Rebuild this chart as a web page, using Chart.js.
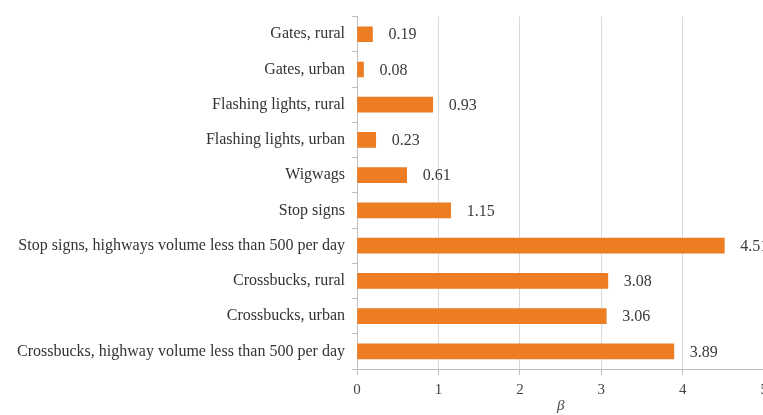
<!DOCTYPE html>
<html>
<head>
<meta charset="utf-8">
<script src="https://cdn.jsdelivr.net/npm/chart.js@4/dist/chart.umd.min.js"></script>
<style>
  html, body { margin: 0; padding: 0; background: #fff; overflow: hidden; }
  #wrap { width: 774px; height: 415px; }
</style>
</head>
<body>
<div id="wrap"><canvas id="myChart" width="774" height="415"></canvas></div>
<script>
const categories = [
  'Gates, rural',
  'Gates, urban',
  'Flashing lights, rural',
  'Flashing lights, urban',
  'Wigwags',
  'Stop signs',
  'Stop signs, highways volume less than 500 per day',
  'Crossbucks, rural',
  'Crossbucks, urban',
  'Crossbucks, highway volume less than 500 per day'
];
const betaValues = [0.19, 0.08, 0.93, 0.23, 0.61, 1.15, 4.51, 3.08, 3.06, 3.89];
const xTicks = [0, 1, 2, 3, 4, 5];

const FONT = '"Liberation Serif", "DejaVu Serif", serif';

// draw value next to each bar
const valueLabels = {
  id: 'valueLabels',
  afterDatasetsDraw(chart) {
    const ctx = chart.ctx;
    const meta = chart.getDatasetMeta(0);
    ctx.save();
    ctx.font = '16px ' + FONT;
    ctx.fillStyle = '#3a3a3a';
    ctx.textBaseline = 'middle';
    ctx.textAlign = 'left';
    meta.data.forEach((bar, i) => {
      ctx.fillText(betaValues[i].toFixed(2), bar.x + 16, bar.y + 1);
    });
    ctx.restore();
  }
};

new Chart(document.getElementById('myChart'), {
  type: 'bar',
  data: {
    labels: categories,
    datasets: [{
      data: betaValues,
      backgroundColor: '#ED7D22',
      borderWidth: 0,
      barThickness: 15
    }]
  },
  options: {
    indexAxis: 'y',
    responsive: false,
    animation: false,
    layout: { padding: { top: 12, left: 0, right: 0, bottom: 0 } },
    plugins: {
      legend: { display: false },
      tooltip: { enabled: false }
    },
    scales: {
      x: {
        min: 0,
        max: 5,
        afterBuildTicks(scale) {
          scale.ticks = xTicks.map(v => ({ value: v }));
        },
        afterFit(scale) { scale.height = 46; },
        grid: {
          color: '#d9d9d9',
          tickLength: 6,
          tickColor: '#bfbfbf'
        },
        border: { color: '#bfbfbf' },
        ticks: {
          color: '#444',
          font: { family: FONT, size: 15 },
          padding: 6
        },
        title: {
          display: true,
          text: 'β',
          color: '#444',
          font: { family: FONT, size: 15, style: 'italic' },
          padding: { top: 0, bottom: 0 }
        }
      },
      y: {
        afterFit(scale) { scale.width = 357; },
        grid: {
          offset: true,
          drawOnChartArea: false,
          tickLength: 5,
          tickColor: '#bfbfbf'
        },
        border: { color: '#bfbfbf' },
        ticks: {
          color: '#333',
          font: { family: FONT, size: 16 },
          padding: 7,
          autoSkip: false
        }
      }
    }
  },
  plugins: [valueLabels]
});
</script>
</body>
</html>
